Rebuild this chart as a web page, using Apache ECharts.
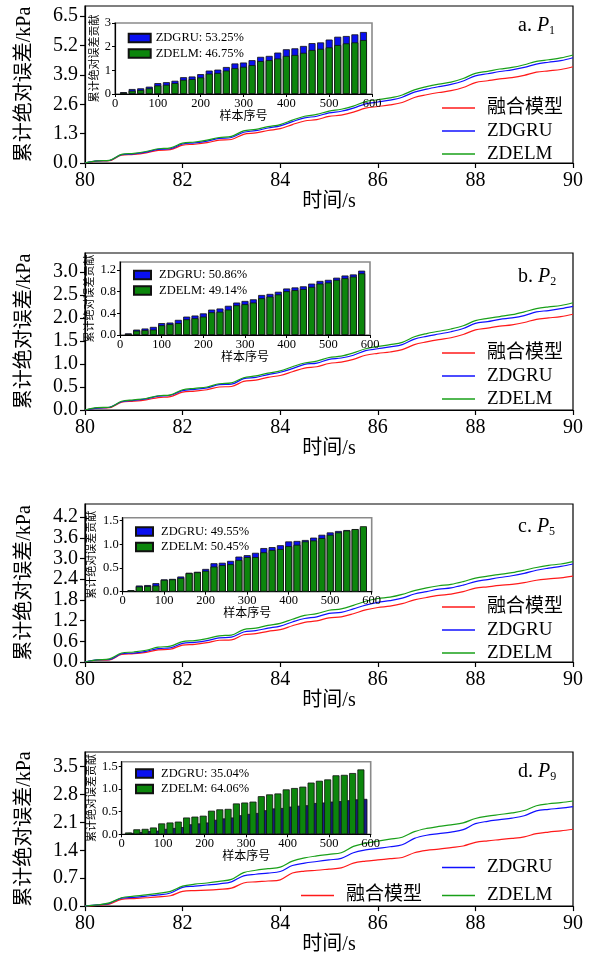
<!DOCTYPE html>
<html><head><meta charset="utf-8">
<script src="https://cdn.jsdelivr.net/npm/echarts/dist/echarts.min.js"></script>
<style>html,body{margin:0;padding:0;background:#fff}#c{width:594px;height:956px}</style>
</head><body><div id="c"></div>
<script>
// ---- data ----
const time = [80,80.25,80.5,80.75,81,81.25,81.5,81.75,82,82.25,82.5,82.75,83,83.25,83.5,83.75,84,84.25,84.5,84.75,85,85.25,85.5,85.75,86,86.25,86.5,86.75,87,87.25,87.5,87.75,88,88.25,88.5,88.75,89,89.25,89.5,89.75,90];
const seriesNames = ['融合模型','ZDGRU','ZDELM'];
const aFusion = [0,0.08,0.10,0.35,0.38,0.45,0.56,0.59,0.79,0.83,0.90,1.01,1.04,1.27,1.33,1.44,1.52,1.70,1.86,1.92,2.06,2.12,2.25,2.43,2.50,2.57,2.68,2.90,3.02,3.12,3.20,3.34,3.56,3.64,3.72,3.78,3.88,4.02,4.08,4.14,4.26];
const aGRU = [0,0.09,0.11,0.37,0.40,0.48,0.60,0.63,0.84,0.89,0.97,1.09,1.13,1.36,1.43,1.55,1.64,1.83,2.00,2.07,2.22,2.29,2.43,2.62,2.70,2.78,2.91,3.14,3.27,3.38,3.48,3.63,3.86,3.95,4.05,4.12,4.23,4.38,4.46,4.53,4.66];
const aELM = [0,0.09,0.12,0.38,0.43,0.51,0.63,0.67,0.88,0.93,1.01,1.13,1.18,1.42,1.49,1.61,1.70,1.90,2.07,2.15,2.30,2.38,2.52,2.72,2.80,2.88,3.01,3.24,3.38,3.49,3.58,3.74,3.97,4.06,4.16,4.23,4.35,4.50,4.57,4.65,4.78];
const bFusion = [0,0.04,0.05,0.17,0.19,0.22,0.27,0.29,0.39,0.41,0.44,0.50,0.51,0.62,0.65,0.71,0.75,0.83,0.91,0.94,1.01,1.04,1.10,1.19,1.23,1.26,1.31,1.42,1.48,1.53,1.57,1.64,1.74,1.78,1.82,1.85,1.90,1.97,2.00,2.03,2.08];
const bGRU = [0,0.04,0.06,0.18,0.21,0.24,0.30,0.32,0.42,0.45,0.48,0.55,0.56,0.68,0.71,0.77,0.82,0.90,0.99,1.02,1.10,1.13,1.19,1.29,1.33,1.37,1.42,1.54,1.60,1.65,1.70,1.77,1.88,1.92,1.97,2.00,2.05,2.13,2.16,2.20,2.25];
const bELM = [0,0.05,0.06,0.19,0.22,0.25,0.31,0.33,0.44,0.47,0.50,0.57,0.59,0.70,0.74,0.80,0.85,0.94,1.02,1.06,1.14,1.17,1.24,1.33,1.38,1.42,1.47,1.59,1.66,1.71,1.76,1.83,1.94,1.99,2.03,2.07,2.13,2.20,2.24,2.27,2.33];
const cFusion = [0,0.05,0.06,0.22,0.24,0.28,0.35,0.37,0.49,0.51,0.56,0.63,0.64,0.79,0.82,0.89,0.94,1.05,1.15,1.19,1.28,1.31,1.40,1.51,1.58,1.62,1.69,1.80,1.87,1.93,1.97,2.04,2.14,2.18,2.22,2.25,2.30,2.37,2.41,2.44,2.49];
const cGRU = [0,0.06,0.07,0.24,0.26,0.31,0.39,0.41,0.54,0.57,0.62,0.70,0.72,0.87,0.91,0.98,1.04,1.16,1.26,1.31,1.41,1.44,1.54,1.65,1.73,1.78,1.85,1.97,2.04,2.11,2.15,2.23,2.33,2.39,2.45,2.50,2.57,2.66,2.72,2.77,2.84];
const cELM = [0,0.06,0.09,0.26,0.29,0.34,0.43,0.46,0.59,0.62,0.68,0.76,0.78,0.94,0.98,1.06,1.12,1.24,1.35,1.40,1.50,1.54,1.64,1.76,1.84,1.88,1.96,2.07,2.15,2.21,2.25,2.33,2.43,2.49,2.54,2.59,2.66,2.74,2.80,2.84,2.91];
const dFusion = [0,0.02,0.05,0.17,0.19,0.21,0.23,0.26,0.37,0.39,0.40,0.42,0.45,0.58,0.61,0.63,0.66,0.83,0.88,0.90,0.93,0.96,1.08,1.13,1.16,1.19,1.22,1.34,1.40,1.43,1.47,1.51,1.60,1.64,1.67,1.70,1.74,1.82,1.86,1.89,1.93];
const dGRU = [0,0.03,0.07,0.20,0.22,0.25,0.28,0.33,0.47,0.50,0.53,0.56,0.61,0.76,0.80,0.83,0.87,1.02,1.08,1.12,1.16,1.20,1.34,1.41,1.45,1.49,1.54,1.70,1.78,1.82,1.86,1.92,2.07,2.13,2.17,2.21,2.27,2.39,2.43,2.46,2.50];
const dELM = [0,0.03,0.08,0.21,0.25,0.28,0.32,0.37,0.50,0.55,0.58,0.62,0.67,0.84,0.90,0.94,0.98,1.13,1.21,1.26,1.30,1.34,1.50,1.58,1.63,1.68,1.73,1.87,1.95,2.00,2.04,2.09,2.20,2.26,2.30,2.34,2.40,2.52,2.57,2.60,2.64];

const samples = [20,40,60,80,100,120,140,160,180,200,220,240,260,280,300,320,340,360,380,400,420,440,460,480,500,520,540,560,580];
const aBarGRU = [0.08,0.21,0.24,0.31,0.46,0.50,0.56,0.71,0.74,0.84,0.99,1.03,1.14,1.29,1.33,1.43,1.57,1.61,1.75,1.89,1.93,2.03,2.15,2.18,2.30,2.42,2.45,2.52,2.62];
const aBarELM = [0.06,0.14,0.17,0.24,0.36,0.39,0.46,0.60,0.63,0.70,0.86,0.89,0.99,1.09,1.15,1.22,1.39,1.43,1.50,1.61,1.65,1.74,1.86,1.91,1.97,2.07,2.14,2.18,2.28];
const bBarGRU = [0.03,0.10,0.12,0.15,0.22,0.23,0.28,0.34,0.36,0.40,0.47,0.49,0.54,0.60,0.63,0.66,0.74,0.76,0.80,0.86,0.88,0.90,0.95,1.00,1.02,1.06,1.10,1.12,1.19];
const bBarELM = [0.02,0.08,0.09,0.10,0.18,0.20,0.22,0.29,0.31,0.34,0.42,0.43,0.47,0.55,0.57,0.60,0.68,0.71,0.75,0.81,0.83,0.85,0.89,0.95,0.97,1.02,1.05,1.08,1.14];
const cBarGRU = [0.03,0.13,0.14,0.18,0.26,0.27,0.32,0.40,0.42,0.48,0.60,0.61,0.65,0.74,0.77,0.82,0.92,0.94,0.98,1.06,1.07,1.09,1.14,1.20,1.25,1.28,1.30,1.32,1.35];
const cBarELM = [0.03,0.11,0.12,0.13,0.25,0.26,0.29,0.39,0.41,0.44,0.53,0.56,0.58,0.67,0.73,0.73,0.83,0.88,0.90,0.96,0.99,1.06,1.08,1.13,1.20,1.25,1.29,1.32,1.38];
const dBarGRU = [0.03,0.05,0.07,0.08,0.12,0.14,0.16,0.22,0.24,0.26,0.32,0.35,0.37,0.42,0.45,0.47,0.53,0.57,0.58,0.61,0.63,0.64,0.69,0.70,0.72,0.73,0.75,0.77,0.78];
const dBarELM = [0.04,0.11,0.12,0.15,0.24,0.26,0.28,0.37,0.39,0.41,0.52,0.55,0.56,0.68,0.70,0.72,0.84,0.88,0.90,0.99,1.02,1.05,1.14,1.18,1.21,1.30,1.31,1.35,1.43];

const barLabelsGRU = ['ZDGRU: 53.25%','ZDGRU: 50.86%','ZDGRU: 49.55%','ZDGRU: 35.04%'];
const barLabelsELM = ['ZDELM: 46.75%','ZDELM: 49.14%','ZDELM: 50.45%','ZDELM: 64.06%'];
const panelTags = ['a','b','c','d'];
const panelSubs = ['1','2','5','9'];

const xTicks = [80,82,84,86,88,90];
const aYTicks = [0,1.3,2.6,3.9,5.2,6.5];
const bYTicks = [0,0.5,1.0,1.5,2.0,2.5,3.0];
const cYTicks = [0,0.6,1.2,1.8,2.4,3.0,3.6,4.2];
const dYTicks = [0,0.7,1.4,2.1,2.8,3.5];
const insetXTicks = [0,100,200,300,400,500,600];
const aInsetYTicks = [0,1,2,3];
const bInsetYTicks = [0,0.4,0.8,1.2];
const cInsetYTicks = [0,0.5,1.0,1.5];
const dInsetYTicks = [0,0.5,1.0,1.5];

// ---- layout ----
const SERIF = '"Liberation Serif","Times New Roman","Noto Sans CJK SC",serif';
const COLORS = {fusion:'#ff1a1a', gru:'#1010ff', elm:'#19a019', barGRU:'#0a10f0', barELM:'#0c860c'};
const panels = [
  {top:6, bottom:163, yMax:6.95, interval:1.3, ticks:aYTicks, lines:[aFusion,aGRU,aELM], bars:[aBarGRU,aBarELM],
   inset:{left:115,top:23,right:372,bottom:94,yMax:3,interval:1,ticks:aInsetYTicks,dec:0,nameGap:13,lgLeft:122.7,lgTop:26.5,iconW:22,pad:0},
   legendTop:93.5, tagY:26, dMode:false},
  {top:253, bottom:410, yMax:3.41, interval:0.5, ticks:bYTicks, lines:[bFusion,bGRU,bELM], bars:[bBarGRU,bBarELM],
   inset:{left:120,top:262,right:370,bottom:335,yMax:1.35,interval:0.4,ticks:bInsetYTicks,dec:1,nameGap:24,lgLeft:128,lgTop:263.5,iconW:17,pad:3},
   legendTop:338.5, tagY:277, dMode:false},
  {top:504, bottom:662, yMax:4.58, interval:0.6, ticks:cYTicks, lines:[cFusion,cGRU,cELM], bars:[cBarGRU,cBarELM],
   inset:{left:122.7,top:517.7,right:371.7,bottom:591.7,yMax:1.56,interval:0.5,ticks:cInsetYTicks,dec:1,nameGap:25,lgLeft:130,lgTop:520,iconW:17,pad:3},
   legendTop:592.5, tagY:527, dMode:false},
  {top:752, bottom:909, yMax:3.87, interval:0.7, ticks:dYTicks, lines:[dFusion,dGRU,dELM], bars:[dBarGRU,dBarELM],
   inset:{left:121.7,top:761.7,right:370.7,bottom:834.3,yMax:1.6,interval:0.5,ticks:dInsetYTicks,dec:1,nameGap:24,lgLeft:130,lgTop:762,iconW:17,pad:3},
   legendTop:853, tagY:772, dMode:true}
];
const PL = 85, PR = 573;

const grid = [], xAxis = [], yAxis = [], series = [], legend = [], graphic = [];
panels.forEach((p, i) => {
  const gi = grid.length;
  grid.push({left:PL, top:p.top, width:PR-PL, height:p.bottom-p.top, show:true, borderColor:'#000', borderWidth:1.2, backgroundColor:'transparent', z:0});
  xAxis.push({gridIndex:gi, type:'value', min:80, max:90, interval:2,
    axisLine:{show:true, onZero:false, lineStyle:{color:'#000', width:1.2}},
    axisTick:{show:true, inside:false, length:5, lineStyle:{color:'#000', width:1.2}, customValues:xTicks},
    axisLabel:{color:'#000', fontFamily:SERIF, fontSize:20, margin:8, customValues:xTicks},
    splitLine:{show:false},
    name:'时间/s', nameLocation:'middle', nameGap:25,
    nameTextStyle:{color:'#000', fontFamily:SERIF, fontSize:20}});
  yAxis.push({gridIndex:gi, type:'value', min:0, max:p.yMax, interval:p.interval,
    axisLine:{show:true, onZero:false, lineStyle:{color:'#000', width:1.2}},
    axisTick:{show:true, inside:false, length:5, lineStyle:{color:'#000', width:1.2}, customValues:p.ticks},
    axisLabel:{color:'#000', fontFamily:SERIF, fontSize:20, margin:7, customValues:p.ticks, formatter:v=>v.toFixed(1)},
    splitLine:{show:false},
    name:'累计绝对误差/kPa', nameLocation:'middle', nameGap:50, nameRotate:90,
    nameTextStyle:{color:'#000', fontFamily:SERIF, fontSize:20}});
  const lineColors = [COLORS.fusion, COLORS.gru, COLORS.elm];
  p.lines.forEach((arr, k) => {
    series.push({type:'line', name:seriesNames[k], xAxisIndex:gi, yAxisIndex:gi,
      data: time.map((t, j) => [t, arr[j]]), symbol:'none', smooth:0.35,
      lineStyle:{color:lineColors[k], width:1.2}, itemStyle:{color:lineColors[k]}, z:3, animation:false});
  });
  // inset
  const q = p.inset;
  const ii = grid.length;
  grid.push({left:q.left, top:q.top, width:q.right-q.left, height:q.bottom-q.top, show:true, borderColor:'#8a8a8a', borderWidth:1.6, backgroundColor:'#fff', z:5});
  xAxis.push({gridIndex:ii, type:'value', min:0, max:600, interval:100, z:6,
    axisLine:{show:true, onZero:false, lineStyle:{color:'#000', width:1.2}},
    axisTick:{show:true, inside:false, length:3, lineStyle:{color:'#000'}},
    axisLabel:{color:'#000', fontFamily:SERIF, fontSize:12.5, margin:3, customValues:insetXTicks},
    splitLine:{show:false},
    name:'样本序号', nameLocation:'middle', nameGap:15,
    nameTextStyle:{color:'#000', fontFamily:SERIF, fontSize:12}});
  yAxis.push({gridIndex:ii, type:'value', min:0, max:q.yMax, interval:q.interval, z:6,
    axisLine:{show:true, onZero:false, lineStyle:{color:'#000', width:1.2}},
    axisTick:{show:true, inside:false, length:3, lineStyle:{color:'#000'}, customValues:q.ticks},
    axisLabel:{color:'#000', fontFamily:SERIF, fontSize:12.5, margin:4, customValues:q.ticks, formatter:v=>v.toFixed(q.dec)},
    splitLine:{show:false},
    name:'累计绝对误差贡献', nameLocation:'middle', nameGap:q.nameGap, nameRotate:90,
    nameTextStyle:{color:'#000', fontFamily:SERIF, fontSize:11}});
  const gruBar = {type:'bar', name:barLabelsGRU[i], xAxisIndex:ii, yAxisIndex:ii, barWidth:7,
    data: samples.map((s, j) => [s, p.bars[0][j]]),
    itemStyle:{color:COLORS.barGRU, borderColor:'#111', borderWidth:0.8}, z:7, animation:false};
  const elmBar = {type:'bar', name:barLabelsELM[i], xAxisIndex:ii, yAxisIndex:ii, barWidth:7,
    data: samples.map((s, j) => [s, p.bars[1][j]]),
    itemStyle:{color:COLORS.barELM, borderColor:'#111', borderWidth:0.8}, z:8, animation:false};
  if (p.dMode) {
    elmBar.barGap = '-57%'; gruBar.barGap = '-57%';
    gruBar.itemStyle = {color:'#1a1f8a', borderColor:'#111', borderWidth:0.8};
    series.push(elmBar, gruBar);
  } else {
    gruBar.barGap = '-100%'; elmBar.barGap = '-100%';
    series.push(gruBar, elmBar);
  }
  legend.push({orient:'vertical', left:q.lgLeft, top:q.lgTop, itemWidth:q.iconW, itemHeight:8.5, itemGap:2.5, icon:'rect', z:9,
    data:[{name:barLabelsGRU[i], itemStyle:{color:COLORS.barGRU}}, barLabelsELM[i]], selectedMode:false,
    textStyle:{color:'#000', fontFamily:SERIF, fontSize:12.5, lineHeight:13, padding:[0,0,0,q.pad]}});
  // main legends
  const lgBase = {orient:'vertical', itemWidth:33, itemHeight:1.4, itemGap:4, icon:'rect', selectedMode:false,
    textStyle:{color:'#000', fontFamily:SERIF, fontSize:19, lineHeight:19, padding:[0,0,0,7]}};
  if (!p.dMode) {
    legend.push(Object.assign({}, lgBase, {left:437, top:p.legendTop, data:seriesNames.slice()}));
  } else {
    legend.push(Object.assign({}, lgBase, {left:437, top:p.legendTop, data:[seriesNames[1]]}));
    legend.push(Object.assign({}, lgBase, {left:296, top:p.legendTop+28, data:[seriesNames[0]]}));
    legend.push(Object.assign({}, lgBase, {left:437, top:p.legendTop+28, data:[seriesNames[2]]}));
  }
  graphic.push({type:'text', x:518, y:p.tagY, z:10,
    style:{text:'{n|' + panelTags[i] + '. }{i|P}{s|' + panelSubs[i] + '}', verticalAlign:'middle',
      rich:{n:{fontFamily:SERIF, fontSize:20, lineHeight:22, fill:'#000'},
            i:{fontFamily:SERIF, fontSize:20, fontStyle:'italic', lineHeight:22, fill:'#000'},
            s:{fontFamily:SERIF, fontSize:12, lineHeight:12, verticalAlign:'bottom', fill:'#000'}}}});
});

const chart = echarts.init(document.getElementById('c'), null, {renderer:'canvas', width:594, height:956});
chart.setOption({animation:false, backgroundColor:'#fff', grid, xAxis, yAxis, series, legend, graphic});
</script>
</body></html>
